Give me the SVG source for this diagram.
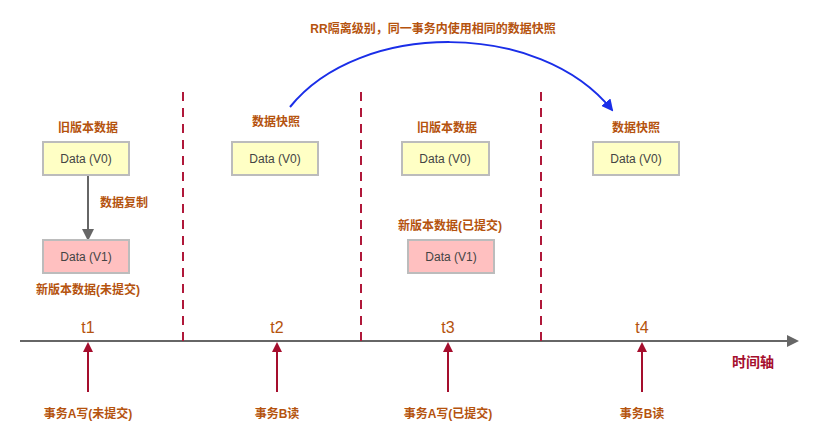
<svg xmlns="http://www.w3.org/2000/svg" width="813" height="443" viewBox="0 0 813 443">
<style>
text{font-family:"Liberation Sans","Noto Sans CJK SC",sans-serif;text-anchor:middle}
.lbl{fill:#b5530e;font-size:12px;font-weight:bold}
.t{fill:#b5530e;font-size:16px}
.v0{fill:#ffffc5;stroke:#bcbcbc;stroke-width:2}
.v1{fill:#ffc0c0;stroke:#bcbcbc;stroke-width:2}
.bt{fill:#444;font-size:12px}
.dash{stroke:#b0183a;stroke-width:2;stroke-dasharray:9,7}
.ra{stroke:#a50e2d;stroke-width:2;marker-end:url(#mr)}
</style>
<defs>
<marker id="mr" markerWidth="10" markerHeight="10" refX="8" refY="5" orient="auto" markerUnits="userSpaceOnUse"><path d="M0,0 L10,5 L0,10 z" fill="#a50e2d"/></marker>
<marker id="mg" markerWidth="12" markerHeight="12" refX="10" refY="6" orient="auto" markerUnits="userSpaceOnUse"><path d="M0,0 L12,6 L0,12 z" fill="#666"/></marker>
<marker id="mb" markerWidth="12" markerHeight="12" refX="10" refY="6" orient="auto" markerUnits="userSpaceOnUse"><path d="M0,0 L12,6 L0,12 z" fill="#1a2ee8"/></marker>
</defs>
<g id="connectors">
<line x1="20" y1="341" x2="797" y2="341" stroke="#666" stroke-width="2" marker-end="url(#mg)"/>
<line class="dash" x1="183" y1="92" x2="183" y2="341"/>
<line class="dash" x1="361" y1="92" x2="361" y2="341"/>
<line class="dash" x1="541" y1="92" x2="541" y2="341"/>
<line class="ra" x1="88" y1="392" x2="88" y2="344"/>
<line class="ra" x1="277" y1="392" x2="277" y2="344"/>
<line class="ra" x1="448" y1="392" x2="448" y2="344"/>
<line class="ra" x1="642" y1="392" x2="642" y2="344"/>
<line x1="88" y1="176" x2="88" y2="239" stroke="#666" stroke-width="2" marker-end="url(#mg)"/>
<path d="M290,107 C360,20 540,20 612,110" fill="none" stroke="#1a2ee8" stroke-width="2" marker-end="url(#mb)"/>
</g>
<g id="title"><text x="433" y="33" class="lbl" style="fill:#b5530e">RR隔离级别，同一事务内使用相同的数据快照</text></g>
<g id="n1"><text x="88" y="132" class="lbl">旧版本数据</text><rect class="v0" x="43" y="142" width="86" height="33"/><text x="86" y="163" class="bt">Data (V0)</text></g>
<g id="copy"><text x="124" y="207" class="lbl">数据复制</text></g>
<g id="n2"><rect class="v1" x="43" y="240" width="86" height="33"/><text x="86" y="261" class="bt">Data (V1)</text><text x="88" y="294" class="lbl">新版本数据(未提交)</text></g>
<g id="n3"><text x="276" y="126" class="lbl">数据快照</text><rect class="v0" x="232" y="142" width="86" height="33"/><text x="275" y="163" class="bt">Data (V0)</text></g>
<g id="n4"><text x="447" y="132" class="lbl">旧版本数据</text><rect class="v0" x="402" y="142" width="87" height="33"/><text x="445" y="163" class="bt">Data (V0)</text></g>
<g id="n5"><text x="450" y="230" class="lbl">新版本数据(已提交)</text><rect class="v1" x="408" y="240" width="86" height="33"/><text x="451" y="261" class="bt">Data (V1)</text></g>
<g id="n6"><text x="636" y="132" class="lbl">数据快照</text><rect class="v0" x="593" y="142" width="86" height="33"/><text x="636" y="163" class="bt">Data (V0)</text></g>
<g id="times"><text x="88" y="333" class="t">t1</text><text x="277" y="333" class="t">t2</text><text x="448" y="333" class="t">t3</text><text x="642" y="333" class="t">t4</text>
<text x="753" y="367" class="lbl" style="fill:#a50e2d;font-size:14px">时间轴</text></g>
<g id="events"><text x="88" y="418" class="lbl">事务A写(未提交)</text><text x="277" y="418" class="lbl">事务B读</text><text x="448" y="418" class="lbl">事务A写(已提交)</text><text x="642" y="418" class="lbl">事务B读</text></g>
</svg>
